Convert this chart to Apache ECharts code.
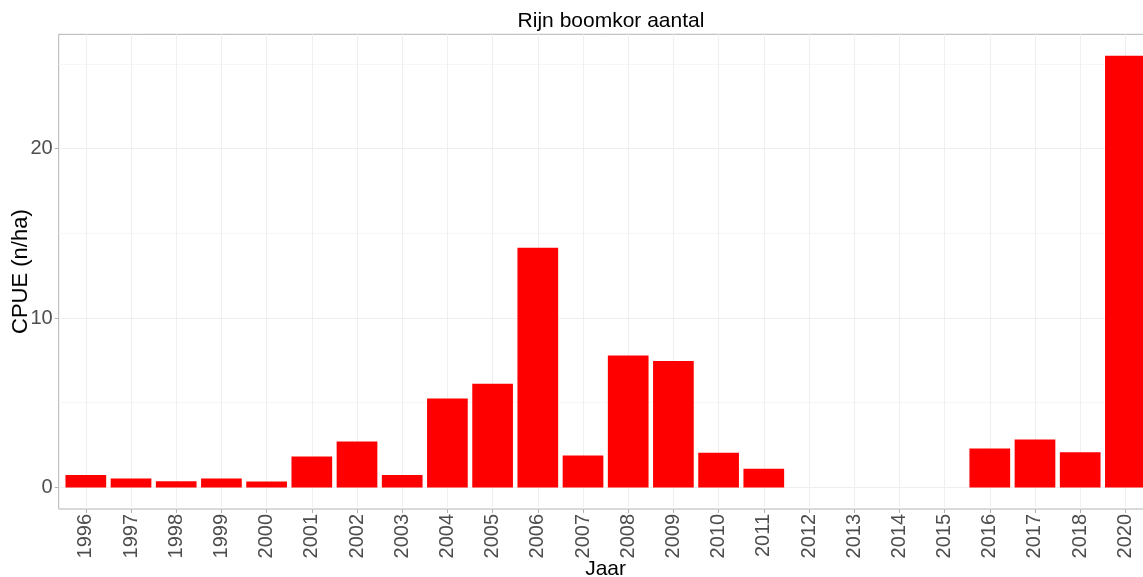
<!DOCTYPE html>
<html>
<head>
<meta charset="utf-8">
<script src="https://cdn.jsdelivr.net/npm/echarts@6/dist/echarts.min.js"></script>
<style>
html,body{margin:0;padding:0;background:#fff;}
#chart{width:1143px;height:577px;}
</style>
</head>
<body>
<div id="chart"></div>
<script>
const years = ['1996','1997','1998','1999','2000','2001','2002','2003','2004','2005','2006','2007','2008','2009','2010','2011','2012','2013','2014','2015','2016','2017','2018','2020'];
const cpue = [0.73,0.53,0.37,0.53,0.35,1.83,2.71,0.73,5.25,6.12,14.14,1.89,7.79,7.47,2.05,1.10,0,0,0,0,2.30,2.83,2.08,25.47];
const yMajorTicks = [0,10,20];
const yMinorTicks = [5,15,25];
const titleText = 'Rijn boomkor aantal';
const xName = 'Jaar';
const yName = 'CPUE (n/ha)';

const FONT = '"Liberation Sans", Arial, sans-serif';
const idx = years.map((_, i) => i);
const yMin = -1.27, yMax = 26.74;

const chart = echarts.init(document.getElementById('chart'), null, {renderer: 'canvas'});
chart.setOption({
  animation: false,
  backgroundColor: '#ffffff',
  title: {
    text: titleText,
    left: 606,
    textAlign: 'center',
    top: 6,
    textStyle: {fontFamily: FONT, fontSize: 21, fontWeight: 'normal', color: '#000'}
  },
  grid: {
    left: 58.7, right: -9.5, top: 34.3, bottom: 68,
    containLabel: false,
    outerBoundsMode: 'none',
    show: true, borderColor: '#b3b3b3', borderWidth: 1, backgroundColor: 'transparent'
  },
  xAxis: {
    type: 'value',
    min: -0.6, max: idx.length - 0.4,
    name: xName, nameLocation: 'middle', nameGap: 50, nameMoveOverlap: false,
    nameTextStyle: {fontFamily: FONT, fontSize: 21, color: '#000'},
    axisLine: {show: false, onZero: false},
    axisTick: {show: true, customValues: idx, length: 4, lineStyle: {color: '#b3b3b3'}},
    axisLabel: {
      customValues: idx, rotate: 90, margin: 5,
      formatter: v => years[Math.round(v)] || '',
      fontFamily: FONT, fontSize: 20, color: '#4d4d4d'
    },
    splitLine: {show: true, lineStyle: {color: '#efefef', width: 1}}
  },
  yAxis: [{
    type: 'value',
    min: yMin, max: yMax,
    name: yName, nameLocation: 'middle', nameGap: 27, nameMoveOverlap: false,
    nameTextStyle: {fontFamily: FONT, fontSize: 22, color: '#000'},
    axisLine: {show: false, onZero: false},
    axisTick: {show: true, customValues: yMajorTicks, length: 4, lineStyle: {color: '#b3b3b3'}},
    axisLabel: {customValues: yMajorTicks, margin: 6, fontFamily: FONT, fontSize: 20, color: '#4d4d4d'},
    splitLine: {show: true, lineStyle: {color: '#efefef', width: 1}}
  }, {
    type: 'value',
    position: 'left',
    min: yMin, max: yMax,
    axisLine: {show: false, onZero: false},
    axisTick: {show: false, customValues: yMinorTicks},
    axisLabel: {show: false, customValues: yMinorTicks},
    splitLine: {show: true, lineStyle: {color: '#f6f6f6', width: 1}}
  }],
  series: [{
    type: 'bar',
    yAxisIndex: 0,
    data: cpue.map((v, i) => [i, v]),
    barWidth: 40.7,
    itemStyle: {color: '#ff0000'},
    z: 3
  }]
});
</script>
</body>
</html>
